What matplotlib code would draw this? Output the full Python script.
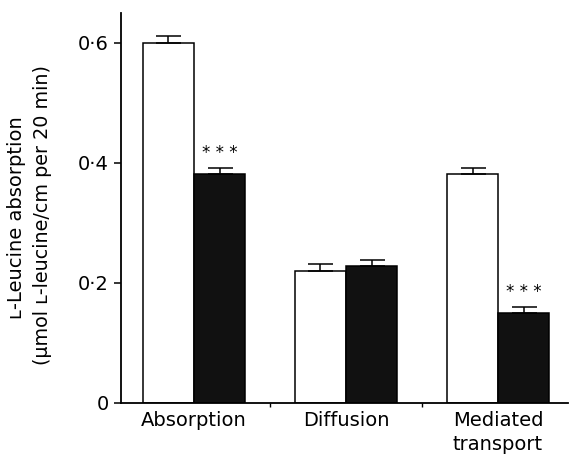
import matplotlib
matplotlib.use("Agg")
import matplotlib.pyplot as plt
import numpy as np

categories = ["Absorption", "Diffusion", "Mediated\ntransport"]
control = [0.600, 0.220, 0.382]
control_err = [0.011, 0.011, 0.010]
treated = [0.382, 0.228, 0.150]
treated_err = [0.010, 0.010, 0.010]
significance = ["***", "", "***"]
yticks = [0, 0.2, 0.4, 0.6]
yticklabels = ["0", "0·2", "0·4", "0·6"]

plt.rcParams['font.family'] = ['DejaVu Sans']

fig = plt.figure(figsize=(5.71, 4.55), dpi=100)
ax = fig.add_axes([121/571, 1-403/455, (568-121)/571, (403-13)/455])

x = np.arange(len(categories))
w = 0.336
ax.bar(x - w/2, control, w, color='white', edgecolor='black', linewidth=1.1,
       yerr=[np.zeros(len(x)), control_err], capsize=9,
       error_kw=dict(elinewidth=1.1, capthick=1.1, ecolor='black'))
ax.bar(x + w/2, treated, w, color='#111111', edgecolor='black', linewidth=1.1,
       yerr=[np.zeros(len(x)), treated_err], capsize=9,
       error_kw=dict(elinewidth=1.1, capthick=1.1, ecolor='black'))

for xi, v, e, s in zip(x, treated, treated_err, significance):
    if s:
        ax.text(xi + w/2, v + e + 0.010, "* * *", ha='center', va='bottom', fontsize=12)

ax.set_xlim(-0.48, 2.46)
ax.set_ylim(0, 0.65)
ax.set_yticks(yticks)
ax.set_yticklabels(yticklabels, fontsize=14)
ax.set_xticks(x)
ax.set_xticklabels(categories, fontsize=14, linespacing=1.3)
ax.tick_params(axis='x', length=0, pad=6)
ax.set_xticks([0.5, 1.5], minor=True)
ax.tick_params(axis='x', which='minor', length=3, width=1)
ax.tick_params(axis='y', length=5, width=1.1, pad=4)

for s in ['top', 'right']:
    ax.spines[s].set_visible(False)
for s in ['left', 'bottom']:
    ax.spines[s].set_linewidth(1.3)

fig.text(17/571, 1-218/455, "ʟ-Leucine absorption", rotation=90, ha='center', va='center', fontsize=14)
fig.text(43/571, 1-215/455, "(µmol ʟ-leucine/cm per 20 min)", rotation=90, ha='center', va='center', fontsize=13.8)

fig.savefig("out.png", dpi=100)
